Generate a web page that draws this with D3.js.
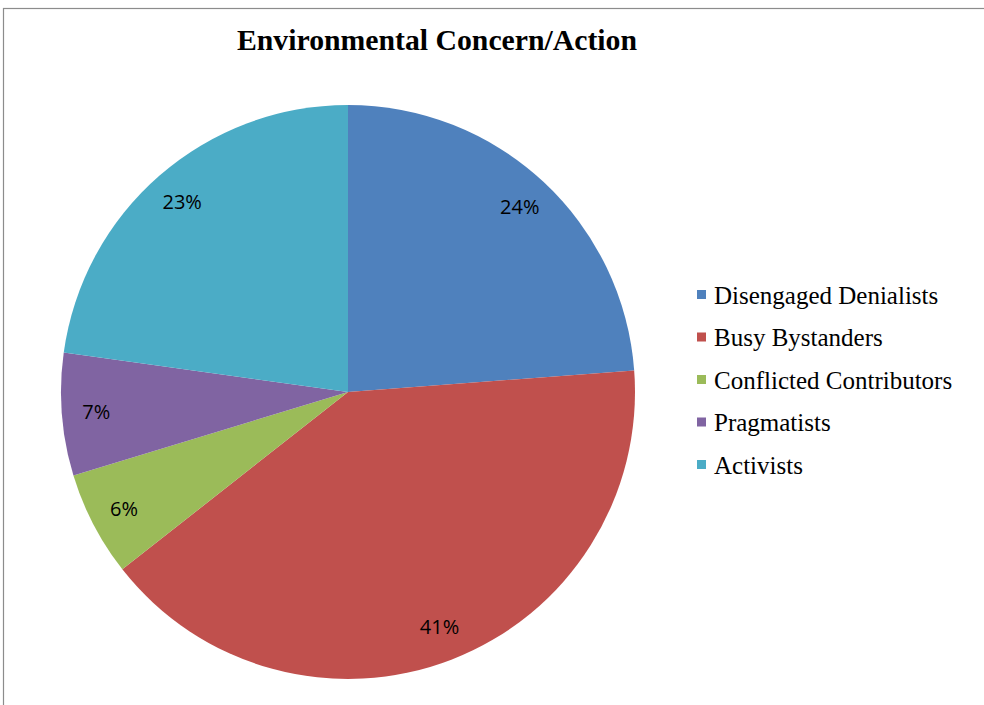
<!DOCTYPE html>
<html>
<head>
<meta charset="utf-8">
<script src="https://cdnjs.cloudflare.com/ajax/libs/d3/7.8.5/d3.min.js"></script>
<style>
  html, body { margin: 0; padding: 0; background: #fff; }
  svg { display: block; }
</style>
</head>
<body>
<div id="chart"></div>
<script>
// chart data
var categories = ['Disengaged Denialists', 'Busy Bystanders', 'Conflicted Contributors', 'Pragmatists', 'Activists'];
var values = [23.8, 40.6, 5.9, 6.9, 22.8];
var colors = ['#4F81BD', '#C0504D', '#9BBB59', '#8064A2', '#4BACC6'];
var title = 'Environmental Concern/Action';

var width = 984, height = 705;
var cx = 348, cy = 392, radius = 287;

var svg = d3.select('#chart').append('svg')
    .attr('width', width)
    .attr('height', height);

svg.append('rect')
    .attr('width', width).attr('height', height)
    .attr('fill', '#fff');

// outer frame (only top and left edges visible in the crop)
svg.append('rect')
    .attr('x', 3.5).attr('y', 8.5)
    .attr('width', width + 10).attr('height', height + 10)
    .attr('fill', 'none')
    .attr('stroke', '#8c8c8c')
    .attr('stroke-width', 1.2);

svg.append('text')
    .attr('x', 437).attr('y', 50)
    .attr('text-anchor', 'middle')
    .attr('font-family', '"Liberation Serif", "Times New Roman", serif')
    .attr('font-weight', 'bold')
    .attr('font-size', 30)
    .attr('textLength', 400)
    .attr('lengthAdjust', 'spacingAndGlyphs')
    .attr('fill', '#000')
    .text(title);

var total = d3.sum(values);
var pie = d3.pie().sort(null).value(function (d) { return d; });
var arcs = pie(values);
var arc = d3.arc().innerRadius(0).outerRadius(radius);
var label_arc = d3.arc().innerRadius(radius * 0.88).outerRadius(radius * 0.88);

var g = svg.append('g').attr('transform', 'translate(' + cx + ',' + cy + ')');

g.selectAll('path.slice')
    .data(arcs)
    .enter()
    .append('path')
    .attr('class', 'slice')
    .attr('d', arc)
    .attr('fill', function (d, i) { return colors[i]; })
    .attr('stroke', 'none');

g.selectAll('text.pct')
    .data(arcs)
    .enter()
    .append('text')
    .attr('class', 'pct')
    .attr('transform', function (d) {
        var c = label_arc.centroid(d);
        return 'translate(' + c[0] + ',' + c[1] + ')';
    })
    .attr('text-anchor', 'middle')
    .attr('dy', '0.35em')
    .attr('font-family', '"Open Sans", "DejaVu Sans", sans-serif')
    .attr('font-size', 20)
    .attr('fill', '#000')
    .text(function (d) { return Math.round(d.value / total * 100) + '%'; });

// legend
var legend = svg.append('g').attr('transform', 'translate(697,295)');
var rows = legend.selectAll('g.item')
    .data(categories)
    .enter()
    .append('g')
    .attr('class', 'item')
    .attr('transform', function (d, i) { return 'translate(0,' + (i * 42.5) + ')'; });
rows.append('rect')
    .attr('x', 0).attr('y', -5)
    .attr('width', 9).attr('height', 9)
    .attr('fill', function (d, i) { return colors[i]; });
rows.append('text')
    .attr('x', 17).attr('y', 0)
    .attr('dy', '0.35em')
    .attr('font-family', '"Liberation Serif", "Times New Roman", serif')
    .attr('font-size', 25)
    .attr('fill', '#000')
    .text(function (d) { return d; });
</script>
</body>
</html>
